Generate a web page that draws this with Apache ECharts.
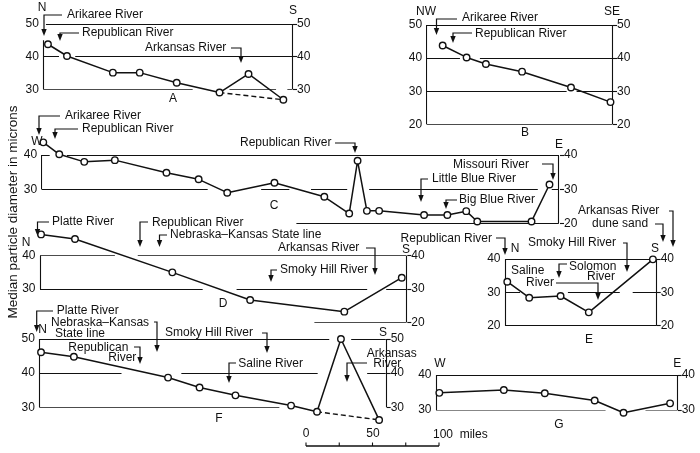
<!DOCTYPE html>
<html><head><meta charset="utf-8">
<script src="https://cdn.jsdelivr.net/npm/echarts@6/dist/echarts.min.js"></script>
<style>html,body{margin:0;padding:0;background:#fff}#c{width:700px;height:453px}</style>
</head><body><div id="c"></div>
<script>
// ---- data: distance along traverse (miles) and median diameter (microns) ----
const aMiles = [3.5, 17.8, 52.3, 72.5, 100.3, 132.5, 154.3, 180.5];
const aDiam  = [43.8, 40.2, 35.1, 35.1, 32.0, 29.0, 34.7, 26.8];
const bMiles = [12, 30, 44.5, 71.7, 108.5, 138.2];
const bDiam  = [43.8, 40.2, 38.2, 35.9, 31.1, 26.7];
const cMiles = [1.2, 13.2, 32, 55, 93.8, 118, 139.5, 175, 212.5, 231.2, 237.5, 244.5, 253.7, 287.5, 305, 319.2, 327.5, 368.3, 381.8];
const cDiam  = [43.7, 40.2, 38.0, 38.5, 34.8, 32.9, 29.0, 31.9, 27.8, 22.9, 38.3, 23.7, 23.7, 22.5, 22.5, 23.6, 20.6, 20.6, 31.4];
const dMiles = [0.8, 26.3, 99.5, 158, 228.8, 272];
const dDiam  = [46.4, 45.0, 35.0, 26.7, 23.2, 33.4];
const eMiles = [1.7, 18.2, 41.8, 63, 111.2];
const eDiam  = [33.2, 28.4, 28.9, 24.0, 39.9];
const fMiles = [1.3, 26, 96.8, 120.5, 147.5, 189.3, 208.8, 226.8, 255.5];
const fDiam  = [46.1, 44.8, 38.7, 35.8, 33.5, 30.5, 28.7, 50.0, 26.3];
const gMiles = [2.5, 51, 81.8, 119.3, 141, 176];
const gDiam  = [34.9, 35.7, 34.8, 32.7, 29.2, 31.9];
// dashed bypass (index pairs)
const aDashed = [5, 7];
const fDashed = [6, 8];
// tick labels
const aTicksL = [30, 40, 50], aTicksR = [30, 40, 50];
const bTicksL = [20, 30, 40, 50], bTicksR = [20, 30, 40, 50];
const cTicksL = [30, 40], cTicksR = [20, 30, 40];
const dTicksL = [30, 40], dTicksR = [20, 30, 40];
const eTicksL = [20, 30, 40], eTicksR = [20, 30, 40];
const fTicksL = [30, 40, 50], fTicksR = [30, 40, 50];
const gTicksL = [30, 40], gTicksR = [30, 40];
const panelNames = ['A','B','C','D','E','F','G'];

// ---- layout / style ----
const FONT = '"Liberation Sans", Arial, Helvetica, sans-serif';
const INK = '#111111';
const PX_PER_MILE = 133 / 100;
const layout = {
  A: {left:43.3, top:24, width:249.7, height:65.3, ymin:30, ymax:50,
      frame:[[[2,50],[187.3,50]],[[0,30],[0,45]],[[187.3,30],[187.3,50]],
             [[0,40],[11.8,40]],[[24,40],[187.3,40]],
             [[0,30],[112.3,30]],[[140,30],[175,30]],[[183.5,30],[187.3,30]]]},
  B: {left:426.7, top:25, width:186.3, height:99.3, ymin:20, ymax:50,
      frame:[[[0,50],[139.7,50]],[[0,20],[0,50]],[[139.7,20],[139.7,50]],[[0,20],[139.7,20]],
             [[0,40],[25,40]],[[40,40],[139.7,40]],[[0,30],[105.2,30]],[[112.7,30],[139.7,30]]]},
  C: {left:41.7, top:155, width:518.3, height:68.5, ymin:20, ymax:40,
      frame:[[[0,40],[6,40]],[[19,40],[388.7,40]],[[0,30],[0,40]],[[388.7,20],[388.7,40]],
             [[0,30],[124.8,30]],[[165,30],[186.2,30]],[[202.5,30],[229.7,30]],[[246.2,30],[373,30]],[[383.5,30],[388.7,30]],
             [[191.5,20],[388.7,20]]]},
  D: {left:40, top:255.7, width:367.3, height:66.6, ymin:20, ymax:40,
      frame:[[[0,40],[56.3,40]],[[73.5,40],[275.5,40]],[[0,30],[0,40]],[[275.5,20],[275.5,40]],
             [[0,30],[122.3,30]],[[147.8,30],[246,30]],[[260.3,30],[275.5,30]],[[206.3,20],[275.5,20]]]},
  E: {left:505, top:259, width:151.7, height:66.7, ymin:20, ymax:40,
      frame:[[[0,40],[108.8,40]],[[0,20],[0,40]],[[113.8,20],[113.8,40]],[[0,20],[113.8,20]],
             [[0,30],[11.3,30]],[[47.3,30],[86.3,30]],[[96,30],[113.8,30]]]},
  F: {left:39.3, top:339, width:347.4, height:68.3, ymin:30, ymax:50,
      frame:[[[0,50],[218,50]],[[234.5,50],[260.5,50]],[[0,30],[0,50]],[[260.5,30],[260.5,50]],
             [[0,40],[61.8,40]],[[106.8,40],[209.3,40]],[[246.5,40],[260.5,40]],[[0,30],[180.5,30]]]},
  G: {left:436, top:375, width:241.7, height:35, ymin:30, ymax:40,
      frame:[[[0,40],[181.3,40]],[[0,30],[0,40]],[[181.3,30],[181.3,40]],
             [[0,30],[127.5,30]],[[157.5,30],[181.3,30]]]}
};
const dataSets = {
  A:{m:aMiles,d:aDiam,dash:aDashed,tl:aTicksL,tr:aTicksR},
  B:{m:bMiles,d:bDiam,dash:null,tl:bTicksL,tr:bTicksR},
  C:{m:cMiles,d:cDiam,dash:null,tl:cTicksL,tr:cTicksR},
  D:{m:dMiles,d:dDiam,dash:null,tl:dTicksL,tr:dTicksR},
  E:{m:eMiles,d:eDiam,dash:null,tl:eTicksL,tr:eTicksR},
  F:{m:fMiles,d:fDiam,dash:fDashed,tl:fTicksL,tr:fTicksR},
  G:{m:gMiles,d:gDiam,dash:null,tl:gTicksL,tr:gTicksR}
};

const grid = [], xAxis = [], yAxis = [], series = [];
panelNames.forEach((k, i) => {
  const L = layout[k], D = dataSets[k];
  const xMax = L.width / PX_PER_MILE;
  grid.push({left:L.left, top:L.top, width:L.width, height:L.height, containLabel:false, outerBoundsMode:'none'});
  xAxis.push({gridIndex:i, type:'value', min:0, max:xMax, show:false});
  yAxis.push({gridIndex:i, type:'value', min:L.ymin, max:L.ymax, interval:10, position:'left',
    axisLine:{show:false}, axisTick:{show:false}, splitLine:{show:false}, axisLabel:{show:false}});
  yAxis.push({gridIndex:i, type:'value', min:L.ymin, max:L.ymax, interval:10, position:'right',
    axisLine:{show:false}, splitLine:{show:false},
    axisTick:{show:true, length:4, lineStyle:{color:INK, width:1.1}},
    axisLabel:{fontSize:12, color:INK, fontFamily:FONT, margin:4, showMinLabel:true, showMaxLabel:true, hideOverlap:false,
      formatter: v => (D.tr.indexOf(Math.round(v)) >= 0 ? String(Math.round(v)) : '')}});
  series.push({type:'lines', coordinateSystem:'cartesian2d', xAxisIndex:i, yAxisIndex:2*i,
    data:L.frame.map(s => ({coords:s})), lineStyle:{color:INK, width:1.1, opacity:1},
    symbol:'none', silent:true, z:1});
  if (D.dash) {
    series.push({type:'line', xAxisIndex:i, yAxisIndex:2*i, clip:false, silent:true, z:2,
      data:D.dash.map(j => [D.m[j], D.d[j]]), showSymbol:false,
      lineStyle:{color:INK, width:1.4, type:[5,3]}});
  }
  series.push({type:'line', xAxisIndex:i, yAxisIndex:2*i, clip:false, silent:true, z:3,
    data:D.m.map((m, j) => [m, D.d[j]]), symbol:'circle', symbolSize:6.5,
    lineStyle:{color:INK, width:1.5},
    itemStyle:{color:'#fff', borderColor:INK, borderWidth:1.4}});
});

// ---- annotations ----
const notes = [
 ['N',42,7.5,'center'],['S',293,11,'center'],['A',173,99,'center'],
 ['Arikaree River',67,15],['Republican River',82,33],['Arkansas River',145,48],
 ['NW',426,11.7,'center'],['SE',612,11.7,'center'],['B',525,133,'center'],
 ['Arikaree River',462,17.3],['Republican River',475,33.3],
 ['W',37,142,'center'],['E',559,145,'center'],['C',274,206,'center'],
 ['Arikaree River',65,115.7],['Republican River',82,129],['Republican River',240,142.7],
 ['Missouri River',453,164.3],['Little Blue River',432,179],['Big Blue River',459,200],
 ['N',26,242.7,'center'],['S',406,250,'center'],['D',223,304,'center'],
 ['Platte River',52,221.7],['Republican River',152,222.3],['Nebraska\u2013Kansas State line',170,235],
 ['Arkansas River',278,247.7],['Smoky Hill River',280,270],
 ['N',515,248.3,'center'],['S',655,248.3,'center'],['E',589,340,'center'],
 ['Republican River',492,238.3,'right'],['Arkansas River',578,211],['dune sand',592,224],
 ['Smoky Hill River',528,242.7],['Saline',511,271],['River',526,282.7],['Solomon',569,266.7],['River',587,276.7],
 ['N',42.7,329.3,'center'],['S',383,333,'center'],['F',219,419,'center'],
 ['Platte River',56.7,310.7],['Nebraska\u2013Kansas',51,322.3],['State line',55,334],
 ['Smoky Hill River',165,332.7],['Republican',68.3,347.3],['River',108.3,357.3],
 ['Saline River',238.3,363.3],['Arkansas',366.7,353.3],['River',373.3,363.3],
 ['W',440,363.3,'center'],['E',677.3,363.3,'center'],['G',559,425,'center'],
 ['0',306,434,'center'],['50',373,434,'center'],['100  miles',433,434.5]
];
const leaders = [
 [[62,15],[44,15],[44,36]],[[79,33],[60,33],[60,41]],[[231,48],[241,48],[241,63]],
 [[457,19],[436.5,19],[436.5,35]],[[472,33],[453,33],[453,43]],
 [[60,116],[39,116],[39,135]],[[78,129],[55,129],[55,139]],[[335,143],[355,143],[355,153]],
 [[542,164],[553,164],[553,180]],[[428,179],[421,179],[421,202]],[[457,200],[446,200],[446,209]],
 [[49,222],[37.5,222],[37.5,236]],[[148,222],[140,222],[140,247]],[[167,235],[159.5,235],[159.5,247]],
 [[366,248],[375,248],[375,275]],[[277,270],[271,270],[271,282]],
 [[496,238],[505,238],[505,255]],[[669,211],[673,211],[673,247]],[[655,224],[663,224],[663,242]],
 [[623,243],[627,243],[627,272]],[[556,283],[598,283],[598,300]],[[567,264],[559,264],[559,278]],
 [[53,311],[36.7,311],[36.7,332]],[[154,322],[157,322],[157,352]],[[262,333],[267,333],[267,353]],
 [[134,347],[140,347],[140,364]],[[236,363],[229,363],[229,383]],[[367,363],[347,363],[347,382]]
];
const graphic = [];
const textEl = (s, x, y, align, z) => ({type:'text', x:x, y:y, silent:true, z:z || 10,
    style:{text:s, font:'12px ' + FONT, fill:INK, textAlign:align || 'left', textVerticalAlign:'middle',
           align:align || 'left', verticalAlign:'middle'}});
notes.forEach(n => graphic.push(textEl(n[0], n[1], n[2], n[3])));
leaders.forEach(p => {
  const end = p[p.length - 1];
  const pts = p.slice(0, -1).concat([[end[0], end[1] - 5]]);
  graphic.push({type:'polyline', silent:true, z:10, shape:{points:pts}, style:{stroke:INK, lineWidth:1.2, fill:null}});
  graphic.push({type:'polygon', silent:true, z:10,
    shape:{points:[[end[0]-2.7,end[1]-7],[end[0]+2.7,end[1]-7],[end[0],end[1]]]}, style:{fill:INK}});
});
// scale bar
graphic.push({type:'polyline', silent:true, shape:{points:[[306,446],[439,446]]}, style:{stroke:INK, lineWidth:1.6, fill:null}});
[0,25,50,75,100].forEach(v => {
  const x = 306 + v * PX_PER_MILE;
  graphic.push({type:'polyline', silent:true, shape:{points:[[x,446],[x,442.5]]}, style:{stroke:INK, lineWidth:1.1, fill:null}});
});
// y title
graphic.push({type:'text', x:13, y:212, rotation:Math.PI/2, silent:true,
  style:{text:'Median particle diameter in microns', font:'13.5px ' + FONT, fill:INK,
         textAlign:'center', textVerticalAlign:'middle', align:'center', verticalAlign:'middle'}});

const chart = echarts.init(document.getElementById('c'), null, {renderer:'canvas'});
chart.setOption({backgroundColor:'#fff', animation:false, grid, xAxis, yAxis, series});
// left tick labels: positioned through each panel's own y scale
panelNames.forEach((k, i) => {
  dataSets[k].tl.forEach(v => {
    const p = chart.convertToPixel({gridIndex:i}, [0, v]);
    graphic.push(textEl(String(v), p[0] - 4.5, p[1], 'right', 100));
  });
});
chart.setOption({graphic});
</script></body></html>
